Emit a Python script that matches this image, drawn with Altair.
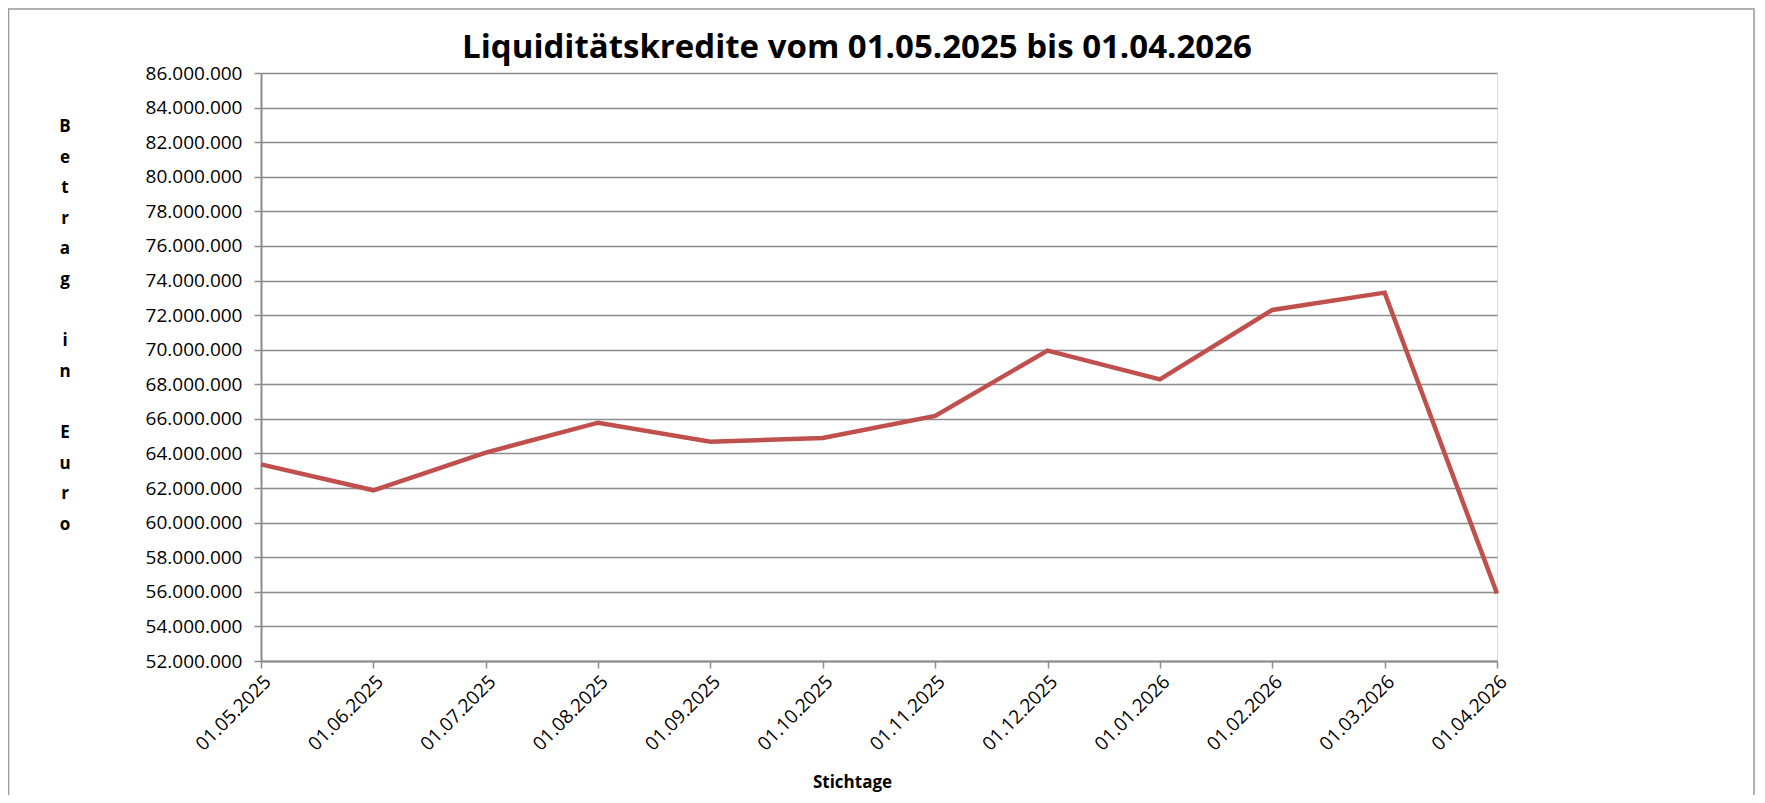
import altair as alt
import pandas as pd

title_text = "Liquiditätskredite vom 01.05.2025 bis 01.04.2026"
dates = ["01.05.2025", "01.06.2025", "01.07.2025", "01.08.2025", "01.09.2025",
         "01.10.2025", "01.11.2025", "01.12.2025", "01.01.2026", "01.02.2026",
         "01.03.2026", "01.04.2026"]
values = [63370000, 61870000, 64050000, 65780000, 64680000, 64890000,
          66170000, 69950000, 68280000, 72300000, 73300000, 55900000]
y_ticks = list(range(52000000, 86000001, 2000000))
y_title_words = [["B", "e", "t", "r", "a", "g"], ["i", "n"], ["E", "u", "r", "o"]]
y_title_word_start = [0, 7, 10]

df = pd.DataFrame({"Stichtag": dates, "Betrag": values})

GRID = "#8c8c8c"
FONT = "Open Sans"
LH = 30.6

line = alt.Chart(df).mark_line(color="#C0504D", strokeWidth=4.5).encode(
    x=alt.X("Stichtag:O", sort=dates,
            scale=alt.Scale(type="point", padding=0),
            axis=alt.Axis(title="Stichtage", labelAngle=-45, labelFontSize=19,
                          labelFont=FONT, labelColor="#000000", labelPadding=4,
                          tickSize=7, tickColor=GRID, tickWidth=1.5,
                          domainColor=GRID, domainWidth=2, grid=False,
                          titleFont=FONT, titleFontSize=17, titleFontWeight="bold",
                          titleColor="#000000", titleX=591, titleY=121,
                          titleAnchor="middle", titleBaseline="middle",
                          labelOverlap=False)),
    y=alt.Y("Betrag:Q",
            scale=alt.Scale(domain=[52000000, 86000000], nice=False, zero=False),
            axis=alt.Axis(values=y_ticks, title=None,
                          labelExpr="replace(format(datum.value, ','), /,/g, '.')",
                          labelFont=FONT, labelFontSize=19, labelColor="#000000",
                          labelPadding=12, tickSize=7, tickColor=GRID, tickWidth=1.5,
                          domainColor=GRID, domainWidth=2,
                          gridColor=GRID, gridWidth=1.5)),
)

border = alt.Chart(alt.Data(values=[{}])).mark_rect(
    fill=None, stroke="#999999", strokeWidth=1.5
).encode(
    x=alt.value(-252.5), x2=alt.value(1493), y=alt.value(-64), y2=alt.value(760)
)

title = alt.Chart(alt.Data(values=[{"t": title_text}])).mark_text(
    font=FONT, fontSize=33, fontWeight="bold", color="#000000",
    align="center", baseline="alphabetic"
).encode(text="t:N", x=alt.value(596), y=alt.value(-15))

ytitle_layers = []
for word, start in zip(y_title_words, y_title_word_start):
    ytitle_layers.append(
        alt.Chart(alt.Data(values=[{}])).mark_text(
            text=word, font=FONT, fontSize=17, fontWeight="bold", color="#000000",
            align="center", baseline="middle", lineHeight=LH
        ).encode(x=alt.value(-196), y=alt.value(54 + start * LH))
    )

chart = alt.layer(border, title, *ytitle_layers, line).properties(
    width=1236, height=588,
    autosize=alt.AutoSizeParams(type="none"),
    padding={"left": 253, "top": 65, "right": 260, "bottom": 134},
).configure_view(stroke=None).configure(background="white")

chart.save("out.html", embed_options={"renderer": "svg", "actions": False})
